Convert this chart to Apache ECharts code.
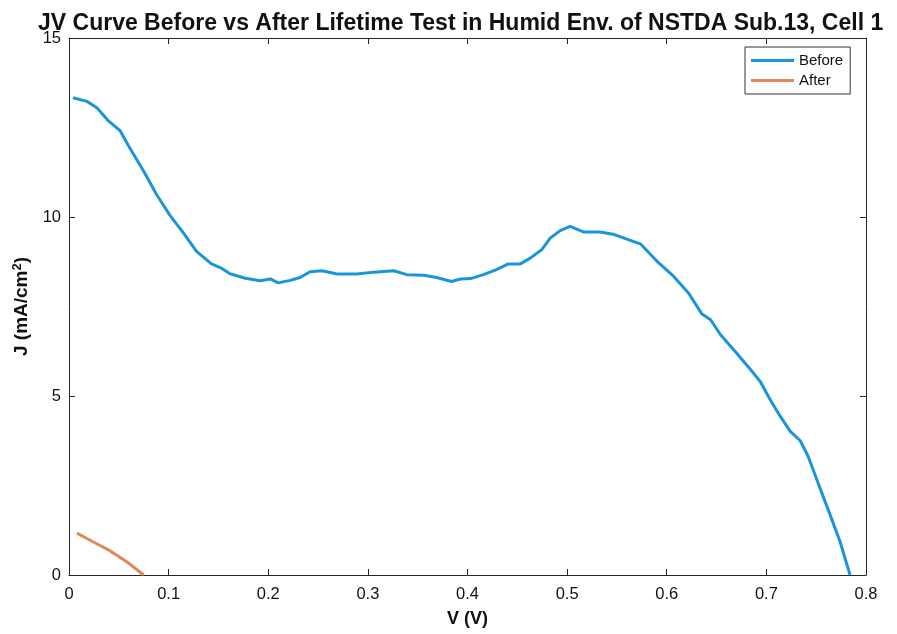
<!DOCTYPE html>
<html>
<head>
<meta charset="utf-8">
<script src="https://cdn.jsdelivr.net/npm/echarts@6/dist/echarts.min.js"></script>
<style>
  html, body { margin: 0; padding: 0; background: #fff; }
  #chart { width: 897px; height: 634px; }
</style>
</head>
<body>
<div id="chart"></div>
<script>
// Voltage (V) and current density (mA/cm^2) before the humidity lifetime test
const beforeV = [0.004, 0.018, 0.028, 0.039, 0.051, 0.061, 0.075, 0.088, 0.101, 0.115,
  0.128, 0.143, 0.153, 0.162, 0.177, 0.192, 0.202, 0.210, 0.222, 0.232,
  0.242, 0.254, 0.269, 0.289, 0.306, 0.326, 0.339, 0.356, 0.369, 0.384,
  0.393, 0.403, 0.416, 0.429, 0.441, 0.453, 0.463, 0.475, 0.483, 0.493,
  0.503, 0.517, 0.533, 0.546, 0.560, 0.574, 0.590, 0.607, 0.622, 0.635,
  0.644, 0.654, 0.670, 0.687, 0.694, 0.704, 0.714, 0.724, 0.734, 0.742,
  0.752, 0.764, 0.774, 0.784];
const beforeJ = [13.33, 13.23, 13.05, 12.70, 12.42, 11.93, 11.28, 10.62, 10.06, 9.55,
  9.04, 8.69, 8.57, 8.41, 8.29, 8.22, 8.27, 8.16, 8.23, 8.31,
  8.47, 8.50, 8.41, 8.41, 8.46, 8.50, 8.39, 8.37, 8.31, 8.20,
  8.27, 8.28, 8.39, 8.53, 8.69, 8.69, 8.85, 9.10, 9.41, 9.62,
  9.74, 9.58, 9.58, 9.52, 9.38, 9.24, 8.77, 8.34, 7.87, 7.30,
  7.13, 6.71, 6.20, 5.64, 5.40, 4.89, 4.43, 4.01, 3.75, 3.31,
  2.56, 1.68, 0.93, 0.00];

// After the lifetime test
const afterV = [0.008, 0.024, 0.041, 0.058, 0.075];
const afterJ = [1.17, 0.93, 0.68, 0.37, 0.00];

const xTicks = [0, 0.1, 0.2, 0.3, 0.4, 0.5, 0.6, 0.7, 0.8];
const yTicks = [0, 5, 10, 15];

const pairs = (xs, ys) => xs.map((x, i) => [x, ys[i]]);

const FONT = '"Liberation Sans", Arial, Helvetica, sans-serif';
const AX = '#262626';
const BLUE = '#1a94db';
const ORANGE = '#e2895a';

const chart = echarts.init(document.getElementById('chart'), null, { renderer: 'canvas' });

const baseX = {
  type: 'value',
  min: xTicks[0],
  max: xTicks[xTicks.length - 1],
  interval: 0.1,
  splitLine: { show: false },
  axisLine: { show: true, onZero: false, lineStyle: { color: AX, width: 1 } },
  axisTick: { show: true, inside: true, length: 6, lineStyle: { color: AX } }
};
const baseY = {
  type: 'value',
  min: yTicks[0],
  max: yTicks[yTicks.length - 1],
  interval: 5,
  splitLine: { show: false },
  axisLine: { show: true, onZero: false, lineStyle: { color: AX, width: 1 } },
  axisTick: { show: true, inside: true, length: 6, lineStyle: { color: AX } }
};

chart.setOption({
  backgroundColor: '#ffffff',
  animation: false,
  title: {
    text: 'JV Curve Before vs After Lifetime Test in Humid Env. of NSTDA Sub.13, Cell 1',
    left: 33,
    top: 7,
    textStyle: { fontFamily: FONT, fontWeight: 'bold', fontSize: 23, color: '#111' }
  },
  legend: {
    data: [
      { name: 'Before', icon: 'rect', itemStyle: { color: BLUE } },
      { name: 'After', icon: 'rect', itemStyle: { color: ORANGE } }
    ],
    orient: 'vertical',
    left: 745,
    top: 47,
    padding: [6, 7, 6, 6],
    itemGap: 5,
    itemWidth: 43,
    itemHeight: 3,
    borderColor: '#333',
    borderWidth: 1,
    textStyle: { fontFamily: FONT, fontSize: 15, color: '#111' }
  },
  grid: { left: 69, right: 31, top: 38, bottom: 59, containLabel: false },
  xAxis: [
    Object.assign({}, baseX, {
      position: 'bottom',
      name: 'V (V)',
      nameLocation: 'middle',
      nameGap: 35,
      nameTextStyle: { fontFamily: FONT, fontWeight: 'bold', fontSize: 18, color: '#111' },
      axisLabel: { fontFamily: FONT, fontSize: 16.5, color: '#111', margin: 11,
        formatter: v => String(Math.round(v * 10) / 10) }
    }),
    Object.assign({}, baseX, { position: 'top', axisLabel: { show: false } })
  ],
  yAxis: [
    Object.assign({}, baseY, {
      position: 'left',
      name: 'J (mA/cm{sup|2})',
      nameLocation: 'middle',
      nameGap: 33,
      nameRotate: 90,
      nameTextStyle: {
        fontFamily: FONT, fontWeight: 'bold', fontSize: 19, color: '#111',
        rich: { sup: { fontFamily: FONT, fontWeight: 'bold', fontSize: 13, color: '#111', verticalAlign: 'top', padding: [0, 0, 9, 0] } }
      },
      axisLabel: { fontFamily: FONT, fontSize: 16.5, color: '#111', margin: 8 }
    }),
    Object.assign({}, baseY, { position: 'right', axisLabel: { show: false } })
  ],
  series: [
    {
      name: 'Before',
      type: 'line',
      data: pairs(beforeV, beforeJ),
      showSymbol: false,
      symbol: 'none',
      lineStyle: { color: BLUE, width: 3 },
      itemStyle: { color: BLUE }
    },
    {
      name: 'After',
      type: 'line',
      data: pairs(afterV, afterJ),
      showSymbol: false,
      symbol: 'none',
      lineStyle: { color: ORANGE, width: 3 },
      itemStyle: { color: ORANGE }
    }
  ]
});
</script>
</body>
</html>
